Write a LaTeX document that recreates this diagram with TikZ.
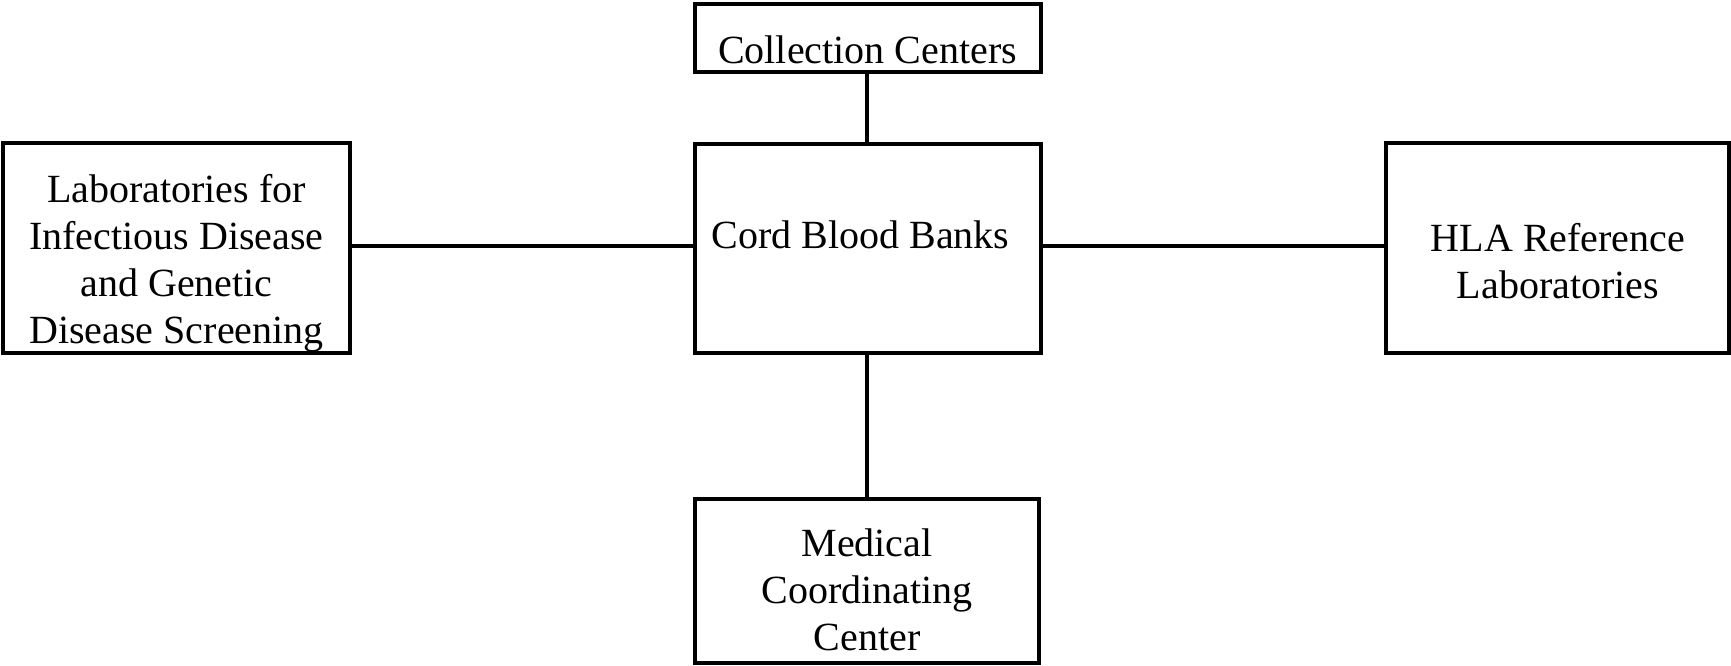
\documentclass[tikz,border=0pt]{standalone}
\usepackage{fontspec}
\setmainfont{Liberation Serif}
\begin{document}
\begin{tikzpicture}[x=0.5pt,y=-0.5pt,
  box/.style={draw,line width=1.6pt,inner sep=0pt,outer sep=0pt},
  lbl/.style={font=\fontsize{20pt}{23.5pt}\selectfont,align=center,inner sep=0pt},
  link/.style={line width=1.6pt}]
\useasboundingbox (0,0) rectangle (1731,665);
\node[box,minimum width=173pt,minimum height=34pt] (cc) at (868,38) {};
\node[box,minimum width=173pt,minimum height=104.5pt] (cbb) at (868,248.5) {};
\node[box,minimum width=173.5pt,minimum height=105pt] (lab) at (176.5,248) {};
\node[box,minimum width=171.5pt,minimum height=105pt] (hla) at (1557.5,248) {};
\node[box,minimum width=172pt,minimum height=82pt] (mcc) at (867,581) {};
\node[lbl,anchor=base] (ccT) at (867.5,63) {Collection Centers};
\node[lbl,anchor=base] (cbbT) at (860.5,248) {Cord Blood Banks};
\node[lbl] (labT) at (176.5,263) {Laboratories for\\Infectious Disease\\and Genetic\\Disease Screening};
\node[lbl] (hlaT) at (1558,261) {HLA Reference\\Laboratories};
\node[lbl] (mccT) at (867,589.5) {Medical\\Coordinating\\Center};
\coordinate (h) at (0,246);
\coordinate (v) at (867,0);
\draw[link] (lab.east |- h) -- (cbb.west |- h);
\draw[link] (cbb.east |- h) -- (hla.west |- h);
\draw[link] (cc.south -| v) -- (cbb.north -| v);
\draw[link] (cbb.south -| v) -- (mcc.north -| v);
\end{tikzpicture}
\end{document}
